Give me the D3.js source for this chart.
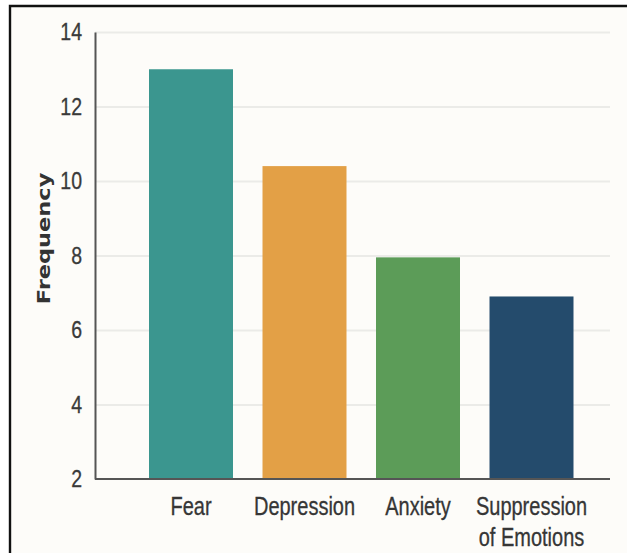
<!DOCTYPE html>
<html>
<head>
<meta charset="utf-8">
<script src="https://cdn.jsdelivr.net/npm/d3@7"></script>
<style>
  html, body { margin: 0; padding: 0; background: #ffffff; }
  svg { display: block; }
</style>
</head>
<body>
<div id="chart"></div>
<script>
// Frequency of reported emotional responses
const categories = ["Fear", "Depression", "Anxiety", "Suppression of Emotions"];
const frequencies = [13, 10.4, 7.95, 6.9];
const categoryLabels = [["Fear"], ["Depression"], ["Anxiety"], ["Suppression", "of Emotions"]];
const yTicks = [2, 4, 6, 8, 10, 12, 14];
const barColors = ["#3b968f", "#e3a046", "#5c9c58", "#244b6c"];
const yAxisTitle = "Frequency";

const W = 627, H = 553;
const plot = { left: 95, right: 610, top: 32, bottom: 479 };
const textStretch = 1.25;

const svg = d3.select("#chart").append("svg")
  .attr("width", W).attr("height", H);

// panel background and frame
svg.append("rect")
  .attr("x", 10).attr("y", 6).attr("width", W - 10).attr("height", H - 6)
  .attr("fill", "#fdfcf9");
svg.append("path")
  .attr("d", `M10,${H} L10,6 L${W},6`)
  .attr("fill", "none").attr("stroke", "#111").attr("stroke-width", 2.4);

const y = d3.scaleLinear().domain([2, 14]).range([plot.bottom, plot.top]);
const x = d3.scaleBand().domain(categories)
  .range([134.25, 588.25]).paddingInner(0.26).paddingOuter(0.13);

// horizontal gridlines
const grid = svg.append("g")
  .attr("transform", `translate(${plot.left},0)`)
  .call(d3.axisLeft(y).tickValues(yTicks.slice(1)).tickSize(-(plot.right - plot.left)).tickFormat(""));
grid.select(".domain").remove();
grid.selectAll(".tick line").attr("stroke", "#ebebe8").attr("stroke-width", 2);

// bars
svg.append("g").selectAll("rect")
  .data(categories)
  .join("rect")
  .attr("x", d => x(d))
  .attr("width", x.bandwidth())
  .attr("y", (d, i) => y(frequencies[i]))
  .attr("height", (d, i) => y(2) - y(frequencies[i]))
  .attr("fill", (d, i) => barColors[i]);

// y axis
const yAxis = svg.append("g")
  .attr("transform", `translate(${plot.left},0)`)
  .call(d3.axisLeft(y).tickValues(yTicks).tickSize(0).tickPadding(13).tickSizeOuter(0));
yAxis.select(".domain").attr("stroke", "#555").attr("stroke-width", 2);
yAxis.selectAll(".tick text")
  .attr("font-family", "'Liberation Sans', Arial, sans-serif")
  .attr("font-size", 19.5)
  .attr("fill", "#3a3a3a")
  .attr("stroke", "#3a3a3a").attr("stroke-width", 0.25)
  .attr("transform", `scale(1,${textStretch})`);

// x axis baseline
svg.append("line")
  .attr("x1", plot.left).attr("x2", plot.right)
  .attr("y1", y(2)).attr("y2", y(2))
  .attr("stroke", "#555").attr("stroke-width", 2.2);

// x axis labels
const xAxis = svg.append("g")
  .attr("transform", `translate(0,${y(2)})`)
  .call(d3.axisBottom(x).tickSize(0));
xAxis.select(".domain").remove();
xAxis.selectAll(".tick text")
  .attr("y", null).attr("dy", null)
  .attr("font-family", "'Liberation Sans', Arial, sans-serif")
  .attr("font-size", 20)
  .attr("fill", "#363636")
  .attr("stroke", "#363636").attr("stroke-width", 0.25)
  .attr("transform", `scale(1,${textStretch})`)
  .text(null)
  .each(function (d) {
    const lines = categoryLabels[categories.indexOf(d)];
    const t = d3.select(this);
    lines.forEach((ln, k) => {
      t.append("tspan")
        .attr("x", 0)
        .attr("y", (36 + k * 31.5) / textStretch)
        .text(ln);
    });
  });

// y axis title
svg.append("text")
  .attr("transform", `translate(43.5,${(plot.top + plot.bottom) / 2 - 17}) scale(1,${textStretch}) rotate(-90)`)
  .attr("text-anchor", "middle")
  .attr("dy", "0.35em")
  .attr("font-family", "'DejaVu Sans', sans-serif")
  .attr("font-weight", "bold")
  .attr("font-size", 18)
  .attr("fill", "#333")
  .text(yAxisTitle);
</script>
</body>
</html>
